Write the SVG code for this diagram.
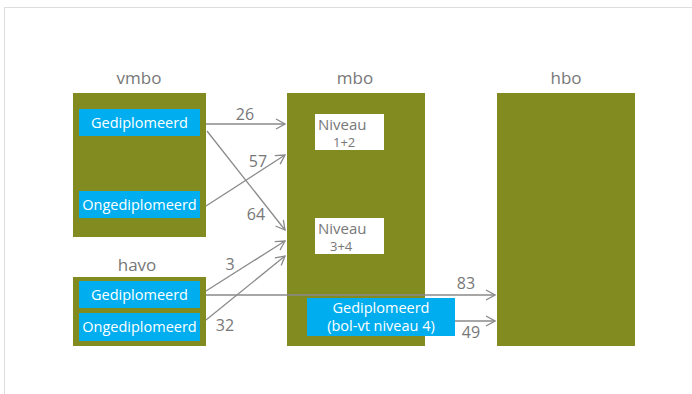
<svg xmlns="http://www.w3.org/2000/svg" width="692" height="394" viewBox="0 0 692 394">
<defs>
<marker id="arr" viewBox="0 0 12 12" refX="11" refY="6" markerWidth="12" markerHeight="12" markerUnits="userSpaceOnUse" orient="auto">
<path d="M2,1 L11,6 L2,11" fill="none" stroke="#8a8a8a" stroke-width="1.3"/>
</marker>
<style>
.box{fill:#818B1F}
.blue{fill:#00AEEF}
.white{fill:#ffffff}
.ttl{font-family:"Open Sans","Noto Sans",sans-serif;font-size:17px;fill:#777777;text-anchor:middle}
.wt{font-family:"Open Sans","Noto Sans",sans-serif;font-size:14.5px;fill:#ffffff;text-anchor:middle}
.gt{font-family:"Open Sans","Noto Sans",sans-serif;font-size:15px;fill:#777777}
.gs{font-family:"Open Sans","Noto Sans",sans-serif;font-size:13px;fill:#777777}
.num{font-family:"Open Sans","Noto Sans",sans-serif;font-size:16px;fill:#777777;text-anchor:middle}
.ln{stroke:#8a8a8a;stroke-width:1.3;fill:none;marker-end:url(#arr)}
</style>
</defs>
<rect x="0" y="0" width="692" height="394" fill="#ffffff"/>
<path d="M4.5,394 V7.5 H692" fill="none" stroke="#dddddd" stroke-width="1"/>

<g id="vmbo">
<text class="ttl" x="139" y="84">vmbo</text>
<rect class="box" x="73" y="93" width="133" height="144"/>
<rect class="blue" x="79" y="109" width="121" height="27"/>
<text class="wt" x="139.500" y="127.500">Gediplomeerd</text>
<rect class="blue" x="79" y="191" width="121" height="27"/>
<text class="wt" x="139.500" y="209.500">Ongediplomeerd</text>
</g>

<g id="havo">
<text class="ttl" x="137" y="271">havo</text>
<rect class="box" x="73" y="277" width="133" height="69"/>
<rect class="blue" x="79" y="281" width="121" height="27"/>
<text class="wt" x="139.500" y="299.500">Gediplomeerd</text>
<rect class="blue" x="79" y="313" width="121" height="28"/>
<text class="wt" x="139.500" y="332">Ongediplomeerd</text>
</g>

<g id="mbo">
<text class="ttl" x="355" y="84">mbo</text>
<rect class="box" x="287" y="93" width="138" height="253"/>
<rect class="white" x="315" y="114" width="69" height="36"/>
<text class="gt" x="318" y="130">Niveau</text>
<text class="gs" x="333" y="147">1+2</text>
<rect class="white" x="315" y="218" width="69" height="36"/>
<text class="gt" x="318" y="234">Niveau</text>
<text class="gs" x="330" y="251">3+4</text>
</g>

<g id="connectors">
<line class="ln" x1="206" y1="124" x2="285" y2="124"/>
<line class="ln" x1="207" y1="131" x2="285" y2="230"/>
<line class="ln" x1="206" y1="206" x2="285" y2="155"/>
<line class="ln" x1="206" y1="291" x2="285" y2="241"/>
<line class="ln" x1="206" y1="320" x2="285" y2="256"/>
<line class="ln" x1="206" y1="295" x2="495" y2="295"/>
<line class="ln" x1="455" y1="321" x2="495" y2="321"/>
<text class="num" x="245" y="120">26</text>
<text class="num" x="258" y="167">57</text>
<text class="num" x="256" y="220">64</text>
<text class="num" x="230" y="270">3</text>
<text class="num" x="225" y="331">32</text>
<text class="num" x="466" y="289">83</text>
<text class="num" x="471" y="338">49</text>
</g>

<g id="mbo-gediplomeerd">
<rect class="blue" x="307" y="298" width="148" height="38"/>
<text class="wt" x="381" y="313">Gediplomeerd</text>
<text class="wt" x="381" y="331">(bol-vt niveau 4)</text>
</g>

<g id="hbo">
<text class="ttl" x="566" y="84">hbo</text>
<rect class="box" x="497" y="93" width="138" height="253"/>
</g>
</svg>
